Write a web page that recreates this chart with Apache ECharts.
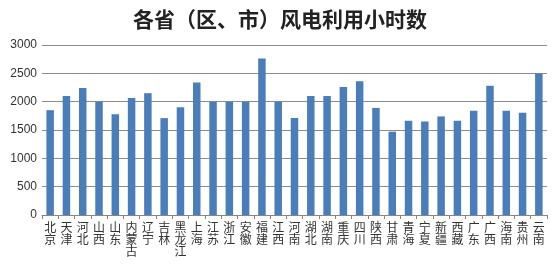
<!DOCTYPE html>
<html>
<head>
<meta charset="utf-8">
<script src="https://cdn.jsdelivr.net/npm/echarts@6/dist/echarts.min.js"></script>
<style>html,body{margin:0;padding:0;background:#fff}#c{width:560px;height:270px}</style>
</head>
<body>
<div id="c"></div>
<script>
const categories = ['北京','天津','河北','山西','山东','内蒙古','辽宁','吉林','黑龙江','上海','江苏','浙江','安徽','福建','江西','河南','湖北','湖南','重庆','四川','陕西','甘肃','青海','宁夏','新疆','西藏','广东','广西','海南','贵州','云南'];
const hours = [1850,2100,2240,2000,1780,2065,2150,1710,1900,2340,2000,2000,2000,2760,2000,1710,2100,2100,2260,2360,1890,1470,1665,1650,1740,1665,1840,2280,1840,1805,2495];
const yTicks = [0,500,1000,1500,2000,2500,3000];

const chart = echarts.init(document.getElementById('c'));
chart.setOption({
  animation: false,
  title: {
    text: '各省（区、市）风电利用小时数',
    left: 'center', top: 4,
    textStyle: {fontFamily: 'Noto Sans CJK SC', fontSize: 21, fontWeight: 'bold', color: '#222'}
  },
  grid: {left: 42, right: 13, top: 45, bottom: 55},
  xAxis: {
    type: 'category',
    data: categories,
    axisLine: {lineStyle: {color: '#868686'}},
    axisTick: {show: true, alignWithLabel: false, length: 4, lineStyle: {color: '#868686'}},
    axisLabel: {
      interval: 0, margin: 6,
      fontFamily: 'Noto Sans CJK SC', fontSize: 12, color: '#333', lineHeight: 12,
      formatter: v => v.split('').join('\n')
    }
  },
  yAxis: {
    type: 'value',
    min: yTicks[0], max: yTicks[yTicks.length - 1], interval: 500,
    axisLine: {show: false},
    axisTick: {show: false},
    splitLine: {lineStyle: {color: '#8c8c8c', width: 1}},
    axisLabel: {fontFamily: 'Liberation Sans', fontSize: 12, color: '#333', margin: 5, formatter: v => String(v)}
  },
  series: [{
    type: 'bar',
    data: hours,
    barWidth: '46%',
    itemStyle: {color: '#4a7ebb'}
  }]
});
</script>
</body>
</html>
